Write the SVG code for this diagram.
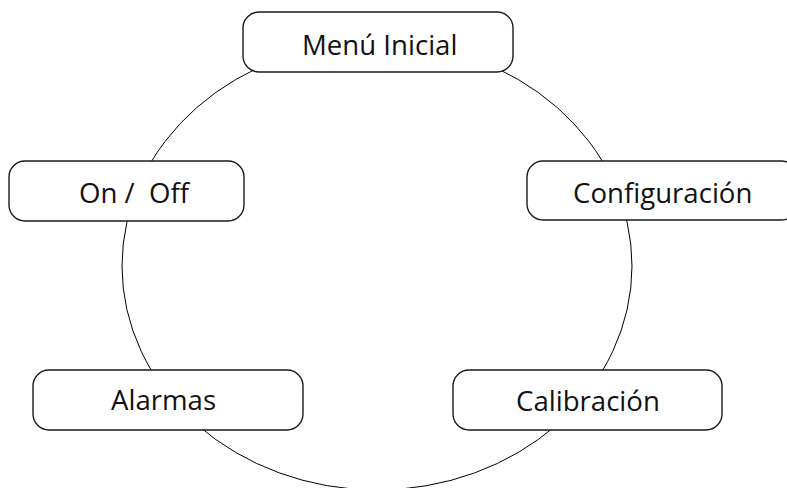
<svg xmlns="http://www.w3.org/2000/svg" width="787" height="488" viewBox="0 0 787 488">
<style>
.box{fill:#fff;stroke:#1a1a1a;stroke-width:1.4}
.lbl{font-family:"Open Sans","Noto Sans","DejaVu Sans",sans-serif;font-size:27.6px;fill:#111;white-space:pre}
.conn{fill:none;stroke:#000;stroke-width:1}
</style>
<rect width="787" height="488" fill="#fff"/>
<g id="connectors">
<ellipse class="conn" cx="377" cy="266" rx="255" ry="224"/>
</g>
<g id="menu-inicial">
<rect class="box" x="243" y="12" width="270" height="60" rx="16"/>
<text class="lbl" x="302" y="55">Menú Inicial</text>
</g>
<g id="on-off">
<rect class="box" x="9" y="161" width="235" height="60" rx="16"/>
<text class="lbl" x="79" y="203" xml:space="preserve">On /  Off</text>
</g>
<g id="configuracion">
<rect class="box" x="527" y="161" width="270" height="59" rx="16"/>
<text class="lbl" x="573" y="203">Configuración</text>
</g>
<g id="alarmas">
<rect class="box" x="33" y="370" width="270" height="60" rx="16"/>
<text class="lbl" x="111" y="410">Alarmas</text>
</g>
<g id="calibracion">
<rect class="box" x="453" y="370" width="269" height="60" rx="16"/>
<text class="lbl" x="516" y="411">Calibración</text>
</g>
</svg>
